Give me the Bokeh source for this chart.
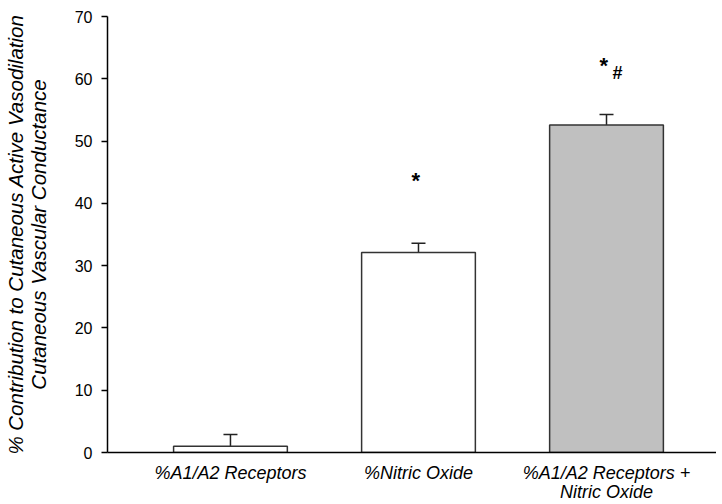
from bokeh.plotting import figure
from bokeh.models import FixedTicker, Whisker, ColumnDataSource, Range1d, TeeHead
from bokeh.core.properties import value
from bokeh.embed import file_html
from bokeh.resources import INLINE

categories = ["%A1/A2 Receptors", "%Nitric Oxide", "%A1/A2 Receptors +\nNitric Oxide"]
means = [1.0, 32.1, 52.6]
errors = [1.9, 1.5, 1.65]
fills = ["white", "white", "#c0c0c0"]
sig_star = ["", "*", "*"]
sig_hash = ["", "", "#"]
sig_height = [0, 43.7, 62.2]
y_ticks = [0, 10, 20, 30, 40, 50, 60, 70]

xs = list(range(len(categories)))
src = ColumnDataSource(dict(
    x=xs, top=means, upper=[m + e for m, e in zip(means, errors)],
    fill=fills,
))

p = figure(frame_width=609, frame_height=436,
           output_backend="svg", toolbar_location=None,
           x_range=Range1d(-0.654, 2.585), y_range=Range1d(0, 70),
           min_border_left=97, min_border_top=16, min_border_right=0, min_border_bottom=48)
p.outline_line_color = None
p.xgrid.visible = False
p.ygrid.visible = False

p.vbar(x="x", top="top", width=0.605, bottom=0, fill_color="fill",
       line_color="#333333", line_width=1.5, source=src)
w = Whisker(base="x", lower="top", upper="upper", source=src,
            line_color="#222222", line_width=1.5,
            upper_head=TeeHead(size=14, line_color="#222222", line_width=1.5),
            lower_head=None)
p.add_layout(w)

# significance marks
sx = [xs[i] - 0.015 for i in range(len(xs)) if sig_star[i]]
sy = [sig_height[i] for i in range(len(xs)) if sig_star[i]]
p.text(x=sx, y=sy, text=[sig_star[i] for i in range(len(xs)) if sig_star[i]],
       text_font=value("Liberation Sans"), text_font_size="22px", text_font_style="bold",
       text_align="center", text_baseline="middle", text_color="black")
hx = [xs[i] for i in range(len(xs)) if sig_hash[i]]
hy = [sig_height[i] - 1.3 for i in range(len(xs)) if sig_hash[i]]
p.text(x=hx, y=hy, text=[sig_hash[i] for i in range(len(xs)) if sig_hash[i]],
       text_font=value("Liberation Sans"), text_font_size="18px", text_font_style="bold",
       text_align="left", text_baseline="middle", text_color="black", x_offset=6)

p.xaxis.ticker = FixedTicker(ticks=xs)
p.xaxis.major_label_overrides = {i: c for i, c in zip(xs, categories)}
p.xaxis.major_tick_line_color = None
p.xaxis.minor_tick_line_color = None
p.xaxis.major_label_text_font = "Liberation Sans"
p.xaxis.major_label_text_font_size = "18px"
p.xaxis.major_label_text_font_style = "italic"
p.xaxis.major_label_text_color = "black"
p.xaxis.major_label_text_line_height = 0.95
p.xaxis.major_label_standoff = 4
p.xaxis.axis_line_color = "black"
p.xaxis.axis_line_width = 1.5

p.yaxis.ticker = FixedTicker(ticks=y_ticks)
p.yaxis.minor_tick_line_color = None
p.yaxis.major_tick_in = 0
p.yaxis.major_tick_out = 6
p.yaxis.major_tick_line_color = "black"
p.yaxis.major_tick_line_width = 1.3
p.yaxis.axis_line_color = "black"
p.yaxis.axis_line_width = 1.5
p.yaxis.major_label_text_font = "Liberation Sans"
p.yaxis.major_label_text_font_size = "16px"
p.yaxis.major_label_text_color = "black"
p.yaxis.major_label_standoff = 9
p.yaxis.axis_label = "% Contribution to Cutaneous Active Vasodilation\nCutaneous Vascular Conductance"
p.yaxis.axis_label_text_font = "Liberation Sans"
p.yaxis.axis_label_text_font_size = "20.5px"
p.yaxis.axis_label_text_font_style = "italic"
p.yaxis.axis_label_text_color = "black"
p.yaxis.axis_label_text_line_height = 1.0
p.yaxis.axis_label_standoff = 22

open("out.html", "w").write(file_html(p, INLINE))
